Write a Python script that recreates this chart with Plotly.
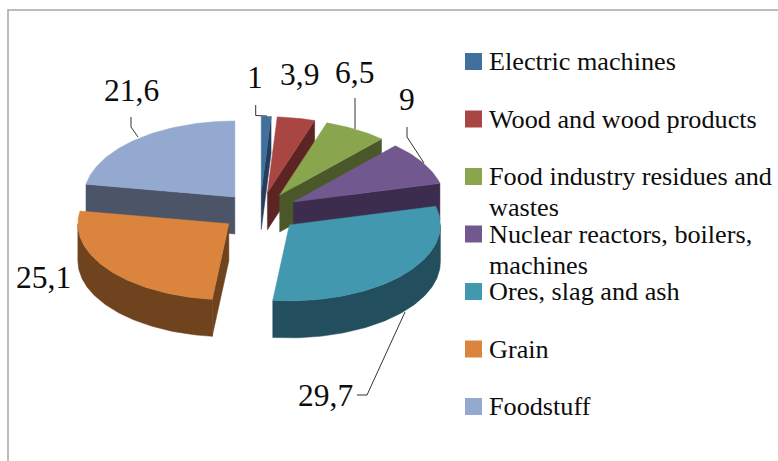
import math
import plotly.graph_objects as go

# ---- data ----
categories = ["Electric machines", "Wood and wood products",
              "Food industry residues and<br>wastes",
              "Nuclear reactors, boilers,<br>machines",
              "Ores, slag and ash", "Grain", "Foodstuff"]
values = [1, 3.9, 6.5, 9, 29.7, 25.1, 21.6]
value_labels = ["1", "3,9", "6,5", "9", "29,7", "25,1", "21,6"]

# ---- styles ----
top_colors = ["#41709F", "#A94644", "#89A54E", "#71588F", "#4198AF", "#DB843D", "#93A9CF"]
wall_colors = ["#233D5C", "#5C2423", "#4A5829", "#3C2C4E", "#224E5D", "#6F431E", "#4C5568"]
draw_order = [0, 1, 2, 3, 4, 6, 5]
label_xy = [(255, 77), (299, 74), (354, 72), (407, 99), (325, 395), (43, 277), (131, 90)]
FONT = "Liberation Serif"
CX, CY, RX, RY, DEPTH, EXPLODE = 260, 212, 151, 76, 37, 39
LEGEND_X, LEGEND_Y0, LEGEND_DY = 473.5, 61.5, 57.5

total = sum(values)
angles = []
acc = 0.0
for v in values:
    angles.append((acc, acc + v / total * 360))
    acc += v / total * 360


def pt(apex, theta, dz=0):
    t = math.radians(theta)
    return apex[0] + RX * math.sin(t), apex[1] - RY * math.cos(t) + dz


def arc(apex, a, b, dz=0):
    n = max(2, int(abs(b - a)) + 2)
    return [pt(apex, a + (b - a) * i / (n - 1), dz) for i in range(n)]


fig = go.Figure()


def poly(points, color):
    fig.add_trace(go.Scatter(
        x=[p[0] for p in points] + [points[0][0]],
        y=[p[1] for p in points] + [points[0][1]],
        mode="lines", fill="toself", fillcolor=color,
        line=dict(color=color, width=0.5), hoverinfo="skip", showlegend=False))


for i in draw_order:
    s, e = angles[i]
    mid = math.radians((s + e) / 2)
    apex = (CX + EXPLODE * math.sin(mid), CY - EXPLODE * RY / RX * math.cos(mid))
    wall, top = wall_colors[i], top_colors[i]
    if math.sin(math.radians(s)) < -1e-6:
        p = pt(apex, s)
        poly([apex, p, (p[0], p[1] + DEPTH), (apex[0], apex[1] + DEPTH)], wall)
    if math.sin(math.radians(e)) > 1e-6:
        p = pt(apex, e)
        poly([apex, p, (p[0], p[1] + DEPTH), (apex[0], apex[1] + DEPTH)], wall)
    a, b = max(s, 90), min(e, 270)
    if a < b:
        poly(arc(apex, a, b) + arc(apex, b, a, DEPTH), wall)
    poly([apex] + arc(apex, s, e), top)

# Legend swatches
legend_y = [LEGEND_Y0 + LEGEND_DY * i for i in range(len(categories))]
fig.add_trace(go.Scatter(
    x=[LEGEND_X] * len(categories), y=legend_y, mode="markers",
    marker=dict(symbol="square", size=17, color=top_colors, line=dict(width=0)),
    text=categories, hoverinfo="text", showlegend=False))

annotations = []
for name, y in zip(categories, legend_y):
    for j, line in enumerate(name.split("<br>")):
        annotations.append(dict(x=488, y=y + j * 31, text=line, showarrow=False,
                                xanchor="left", yanchor="middle", xref="x", yref="y",
                                borderpad=0,
                                font=dict(family=FONT, size=26.2, color="#0d0d0d")))
for lab, (x, y) in zip(value_labels, label_xy):
    annotations.append(dict(x=x, y=y, text=lab, showarrow=False, xanchor="center",
                            yanchor="middle", xref="x", yref="y",
                            font=dict(family=FONT, size=31.5, color="#0d0d0d")))

leaders = [
    [(255.7, 105), (255.7, 115.5), (267, 116)],
    [(355, 98), (355, 129)],
    [(407, 127), (407, 137), (424, 163)],
    [(131, 117), (131, 127), (138, 137)],
    [(357, 395), (367, 395), (405, 312)],
]
shapes = []
for L in leaders:
    path = "M " + " L ".join(f"{x} {y}" for x, y in L)
    shapes.append(dict(type="path", path=path, xref="x", yref="y",
                       line=dict(color="#333333", width=1)))
# Chart frame (gray, top and left only visible in the crop)
shapes.append(dict(type="path", path="M 8 461 L 8 10 L 778 10", xref="x", yref="y",
                   line=dict(color="#A6A6A6", width=1.5)))

fig.update_layout(
    width=778, height=461, margin=dict(l=0, r=0, t=0, b=0),
    paper_bgcolor="white", plot_bgcolor="white", showlegend=False,
    xaxis=dict(range=[0, 778], visible=False, fixedrange=True),
    yaxis=dict(range=[461, 0], visible=False, fixedrange=True),
    annotations=annotations, shapes=shapes,
)
fig.write_html("out.html", config=dict(displayModeBar=False),
               post_script="document.body.style.margin='0';document.body.style.overflow='hidden';")
